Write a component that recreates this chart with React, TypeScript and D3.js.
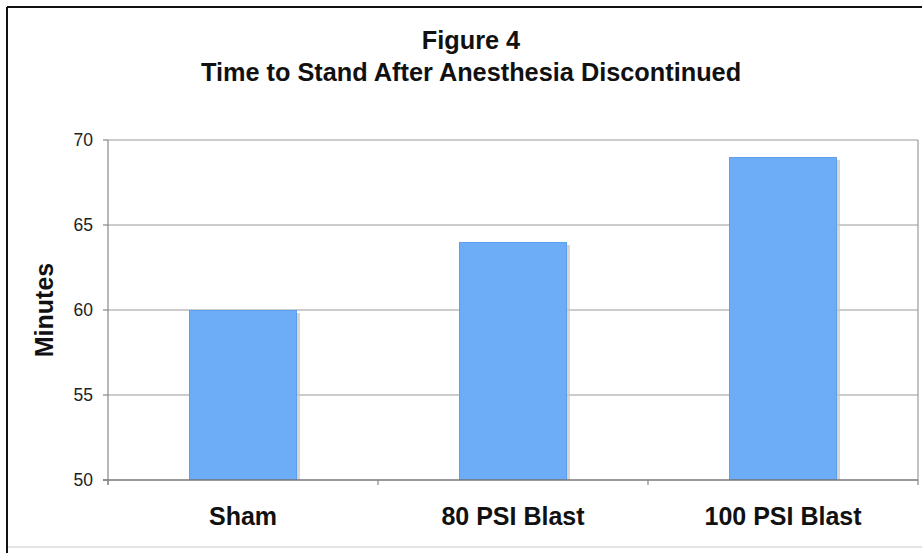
import React from "react";
import * as d3 from "d3";

const categories: string[] = ["Sham", "80 PSI Blast", "100 PSI Blast"];
const minutes: number[] = [60, 64, 69];
const yTicks: number[] = [50, 55, 60, 65, 70];
const titleLines: string[] = ["Figure 4", "Time to Stand After Anesthesia Discontinued"];
const yAxisTitle = "Minutes";

const W = 922;
const H = 553;
const left = 108;
const right = 918;
const top = 140;
const bottom = 480;

export default function App() {
  const x = d3.scaleBand<string>().domain(categories).range([left, right]).padding(0);
  const y = d3.scaleLinear().domain([50, 70]).range([bottom, top]);
  const barW = x.bandwidth() * 0.4;
  const font = "'Liberation Sans', Arial, Helvetica, sans-serif";
  const boundaries = [left, ...categories.map((c) => (x(c) as number) + x.bandwidth())];

  return (
    <div style={{ position: "absolute", left: 0, top: 0 }}>
      <svg width={W} height={H} style={{ display: "block", background: "#fff" }}>
        <rect x={0} y={0} width={W} height={H} fill="#fff" />
        {/* outer frame */}
        <line x1={7} y1={7} x2={W} y2={7} stroke="#111" strokeWidth={2} />
        <line x1={7} y1={7} x2={7} y2={H} stroke="#111" strokeWidth={2} />
        <line x1={8} y1={547} x2={W} y2={547} stroke="#e4e4e4" strokeWidth={2} />

        {/* title */}
        {titleLines.map((t, i) => (
          <text
            key={t}
            x={471}
            y={i === 0 ? 49 : 81}
            textAnchor="middle"
            fontFamily={font}
            fontWeight="bold"
            fontSize={25.3}
            fill="#111"
          >
            {t}
          </text>
        ))}

        {/* gridlines */}
        {yTicks.filter((t) => t > 50).map((t) => (
          <line key={t} x1={left} x2={right} y1={y(t)} y2={y(t)} stroke="#9a9a9a" strokeWidth={1.2} />
        ))}
        {/* right border of plot */}
        <line x1={right} x2={right} y1={top} y2={bottom} stroke="#9a9a9a" strokeWidth={1.2} />

        {/* bars */}
        {categories.map((c, i) => {
          const cx = (x(c) as number) + x.bandwidth() / 2;
          const bx = cx - barW / 2;
          const by = y(minutes[i]);
          return (
            <g key={c}>
              <rect x={bx + 3} y={by + 3} width={barW} height={bottom - by - 3} fill="#c4c4c4" opacity={0.7} />
              <rect x={bx} y={by} width={barW} height={bottom - by} fill="#6dadf7" />
              <rect x={bx + 0.5} y={by + 0.5} width={barW - 1} height={bottom - by - 1} fill="none" stroke="#5d9fef" strokeWidth={1} />
            </g>
          );
        })}

        {/* axes */}
        <line x1={left} x2={left} y1={top} y2={bottom + 5} stroke="#888" strokeWidth={1.2} />
        <line x1={left - 5} x2={right} y1={bottom} y2={bottom} stroke="#777" strokeWidth={1.5} />
        {yTicks.map((t) => (
          <g key={t}>
            <line x1={left - 5} x2={left} y1={y(t)} y2={y(t)} stroke="#888" strokeWidth={1.2} />
            <text
              x={93}
              y={y(t) + 6}
              textAnchor="end"
              fontFamily={font}
              fontSize={17.5}
              fill="#222"
            >
              {t}
            </text>
          </g>
        ))}
        {boundaries.map((b, i) => (
          <line key={i} x1={b} x2={b} y1={bottom} y2={bottom + 5} stroke="#888" strokeWidth={1.2} />
        ))}

        {/* category labels */}
        {categories.map((c) => (
          <text
            key={c}
            x={(x(c) as number) + x.bandwidth() / 2}
            y={525}
            textAnchor="middle"
            fontFamily={font}
            fontWeight="bold"
            fontSize={25}
            fill="#111"
          >
            {c}
          </text>
        ))}

        {/* y axis title */}
        <text
          transform="translate(53,310) rotate(-90)"
          textAnchor="middle"
          fontFamily={font}
          fontWeight="bold"
          fontSize={25}
          fill="#111"
        >
          {yAxisTitle}
        </text>
      </svg>
    </div>
  );
}
